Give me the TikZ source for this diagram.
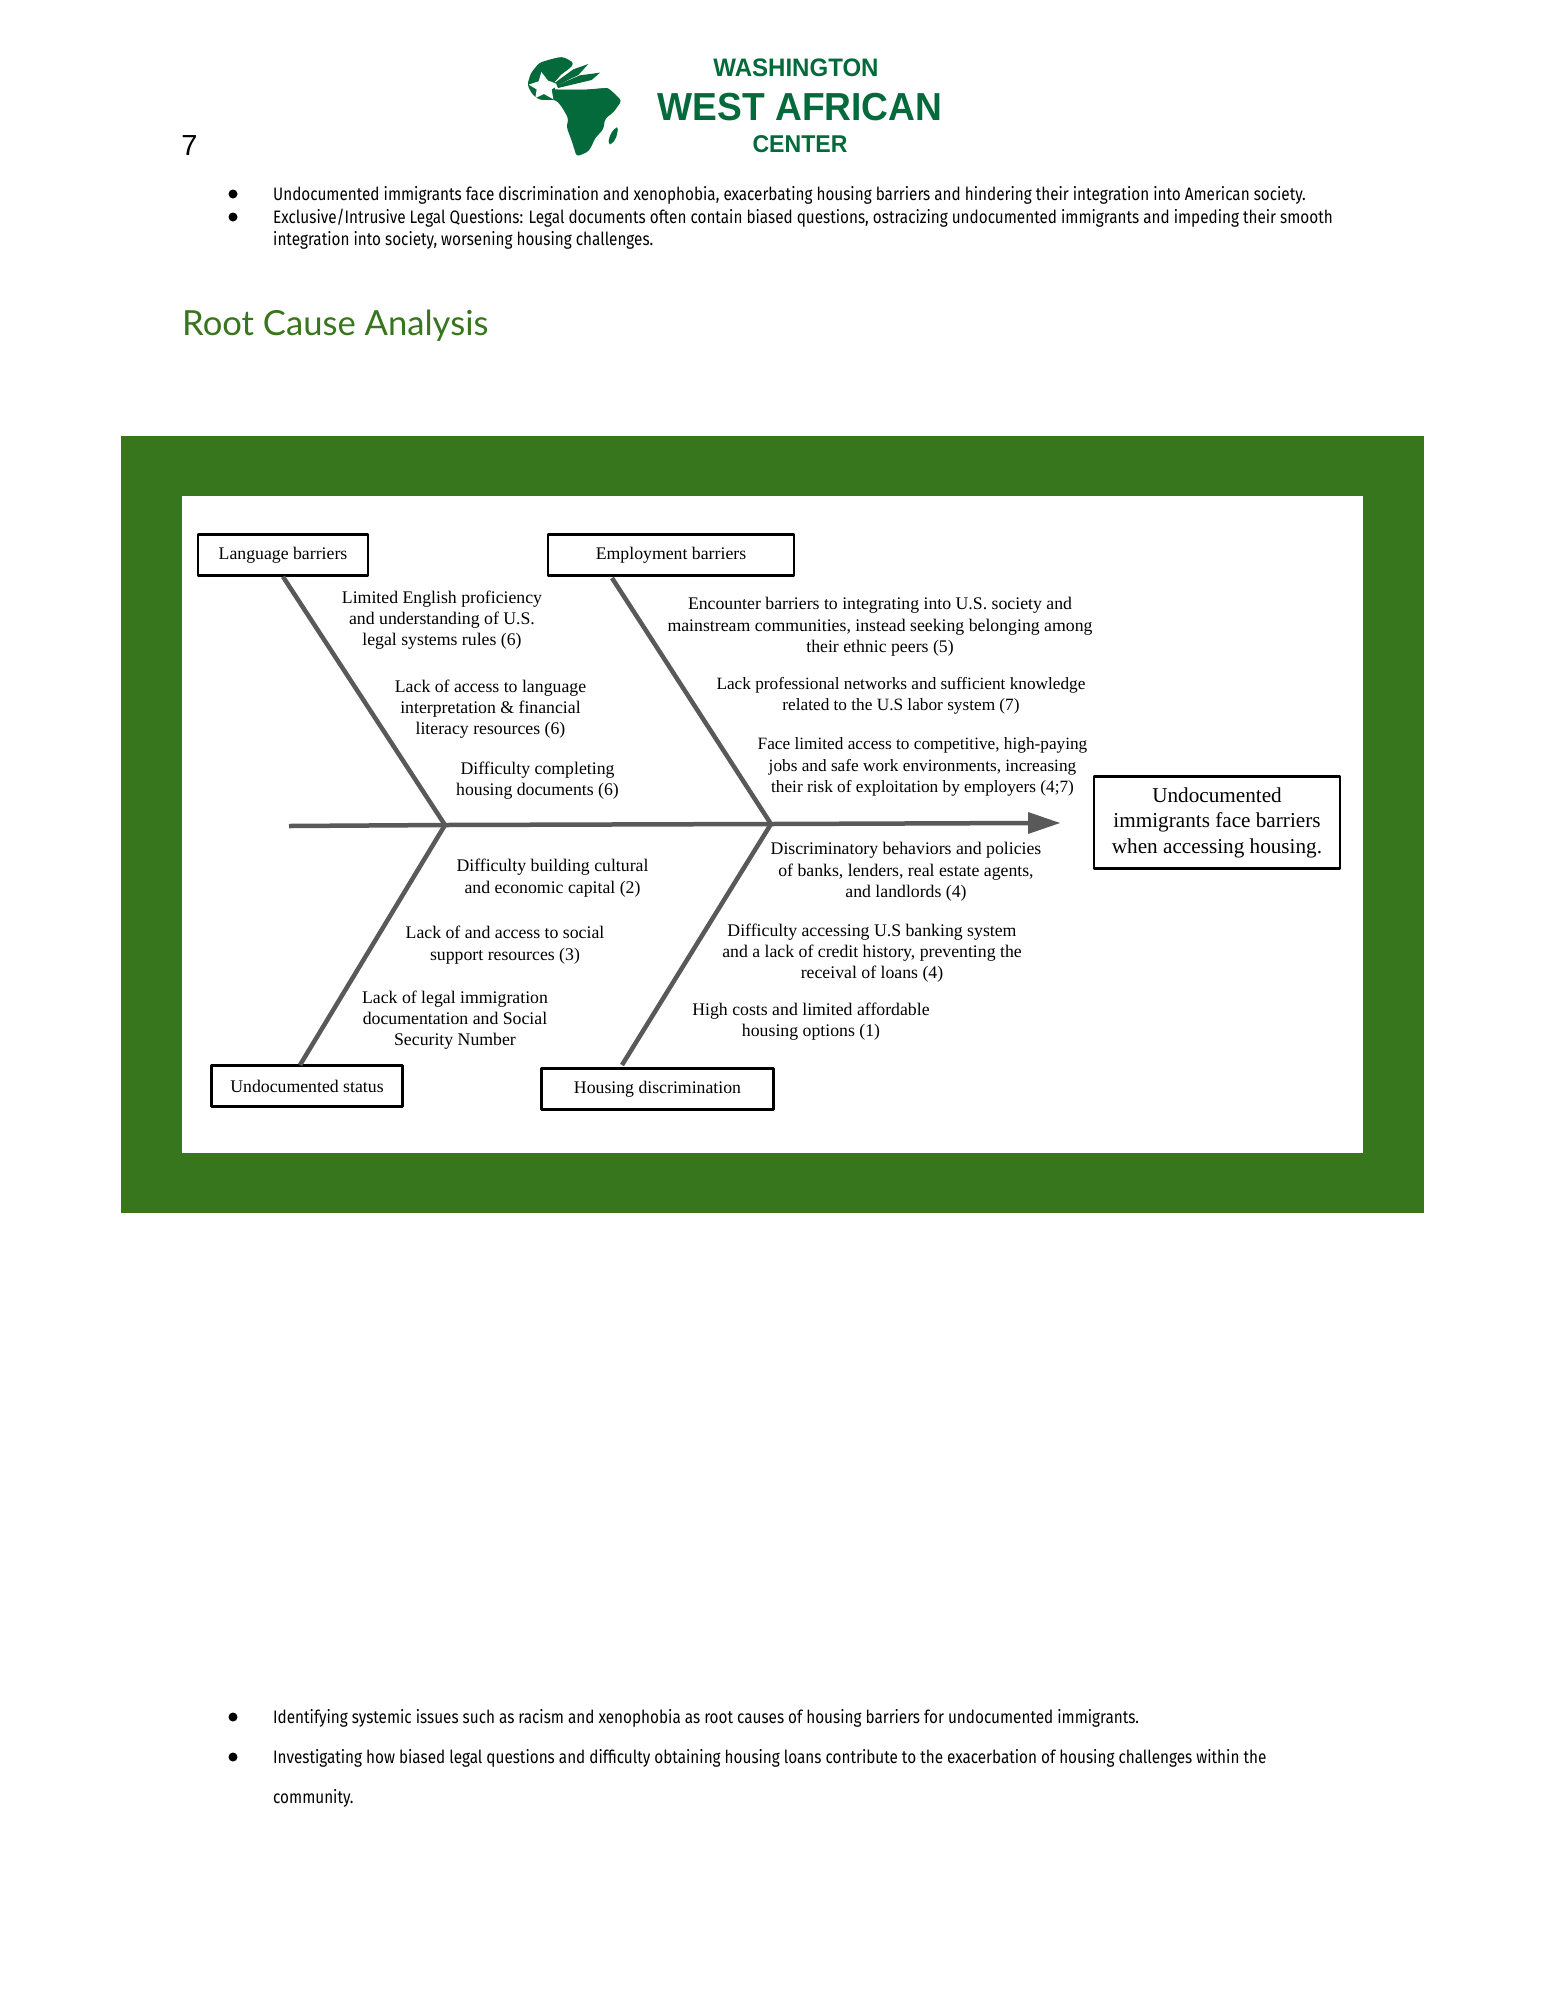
\documentclass[tikz,border=0pt]{standalone}
\usepackage{fontspec}
\setmainfont{Liberation Serif}
\newfontfamily\bodyfont[FakeStretch=0.85]{Fira Sans}
\newfontfamily\headfont{Lato}
\newfontfamily\logofont[FakeStretch=0.95]{Liberation Sans}
\newfontfamily\numfont{Liberation Sans}
\definecolor{framegreen}{HTML}{38761D}
\definecolor{logogreen}{HTML}{056A3B}
\definecolor{bonegray}{HTML}{595959}
\tikzset{
	causebox/.style={draw=black, line width=2.5pt, fill=white, minimum height=41pt, font=\fontsize{17.75}{21.3}\selectfont, inner sep=0pt},
	label/.style={align=center, font=\fontsize{17.75}{21.3}\selectfont, inner sep=0pt},
	narrowlabel/.style={label, font=\fontsize{17.25}{21.3}\selectfont},
	bodyline/.style={anchor=west, font=\bodyfont\fontsize{18}{21}\selectfont, inner sep=0pt},
	bone/.style={draw=bonegray, line width=4.5pt},
	dot/.style={circle, fill=black, minimum size=9pt, inner sep=0pt},
	logotext/.style={text=logogreen, inner sep=0pt}
}
\begin{document}
\begin{tikzpicture}[x=1pt, y=-1pt, >=stealth, line join=round]
	\useasboundingbox (0,0) rectangle (1545,2000);
	% page head
	\node[font=\numfont\fontsize{29}{29}\selectfont, inner sep=0pt] (pagenum) at (189.5,145.5) {7};
	\begin{scope}[shift={(520,50)}, x=0.3333pt, y=-0.3333pt]
		\fill[logogreen, rounded corners=3pt] (22,105)--(32,70)--(58,38)--(95,27)--(125,20)--(145,28)--(162,40)--(150,55)--(125,72)--(105,95)--(105,118)--(200,118)--(262,112)--(285,132)--(305,152)--(282,185)--(255,207)--(250,238)--(225,265)--(215,288)--(205,305)--(170,320)--(155,272)--(140,232)--(145,205)--(125,170)--(108,150)--(60,150)--(38,135)--cycle;
		\fill[white] (64,66)--(84,92)--(118,104)--(95,118)--(100,148)--(72,132)--(46,144)--(50,118)--(26,104)--(56,94)--cycle;
		\fill[white] (105,95)--(150,55)--(230,55)--(260,100)--(265,113)--(200,118)--(105,118)--cycle;
		\fill[logogreen] (105,98)--(160,58)--(205,42)--(175,75)--(112,106)--cycle;
		\fill[logogreen] (110,106)--(180,76)--(240,68)--(215,90)--(114,114)--cycle;
		\fill[logogreen, rounded corners=3pt] (295,230)--(283,236)--(270,255)--(264,282)--(276,283)--(290,260)--cycle;
	\end{scope}
	\node[logotext, font=\logofont\bfseries\fontsize{25.3}{26}\selectfont] (logoa) at (796,68) {WASHINGTON};
	\node[logotext, font=\logofont\bfseries\fontsize{39.1}{39}\selectfont] (logob) at (800,107) {WEST AFRICAN};
	\node[logotext, font=\logofont\bfseries\fontsize{24.3}{25}\selectfont] (logoc) at (800,144) {CENTER};
	% top bullets
	\node[dot] (dota) at (233,194) {};
	\node[dot] (dotb) at (233,217) {};
	\node[bodyline] (topa) at (273,195) {Undocumented immigrants face discrimination and xenophobia, exacerbating housing barriers and hindering their integration into American society.};
	\node[bodyline] (topb) at (273,218) {Exclusive/Intrusive Legal Questions: Legal documents often contain biased questions, ostracizing undocumented immigrants and impeding their smooth};
	\node[bodyline] (topc) at (273,240) {integration into society, worsening housing challenges.};
	\node[anchor=west, text=framegreen, font=\headfont\fontsize{34.6}{35}\selectfont, inner sep=0pt] (heading) at (182,326) {Root Cause Analysis};
	% figure
	\fill[framegreen] (121,436) rectangle (1424,1213);
	\fill[white] (182,496) rectangle (1363,1153);
	\node[causebox, minimum width=170pt] (langbox) at (283,555) {Language barriers};
	\node[causebox, minimum width=246pt] (empbox) at (671,555) {Employment barriers};
	\node[causebox, minimum width=191pt] (undocbox) at (307,1086) {Undocumented status};
	\node[causebox, minimum width=232pt] (housebox) at (657.5,1089) {Housing discrimination};
	\node[causebox, minimum width=246pt, minimum height=92pt, align=center, font=\fontsize{21.2}{25.5}\selectfont] (rootbox) at (1217,822.5) {Undocumented\\immigrants face barriers\\when accessing housing.};
	\coordinate (spinestart) at (289,826);
	\coordinate (jointa) at (445,825);
	\coordinate (jointb) at (771,824);
	\coordinate (spineend) at (1060,823);
	\coordinate (emptop) at (612,578);
	\coordinate (undoctop) at (300,1065);
	\coordinate (housetop) at (622,1065);
	\draw[bone] (spinestart)--(jointa)--(jointb)--(1032,823);
	\fill[bonegray] (spineend)--(1028,812)--(1028,834)--cycle;
	\draw[bone] (langbox.south)--(jointa)--(undoctop);
	\draw[bone] (emptop)--(jointb)--(housetop);
	% causes, upper side
	\node[label] (lima) at (442,620) {Limited English proficiency\\and understanding of U.S.\\legal systems rules (6)};
	\node[label] (limb) at (490.5,709) {Lack of access to language\\interpretation \& financial\\literacy resources (6)};
	\node[label] (limc) at (537.5,781) {Difficulty completing\\housing documents (6)};
	\node[label] (empa) at (880,627) {Encounter barriers to integrating into U.S. society and\\mainstream communities, instead seeking belonging among\\their ethnic peers (5)};
	\node[narrowlabel] (empb) at (901,696) {Lack professional networks and sufficient knowledge\\related to the U.S labor system (7)};
	\node[narrowlabel] (empc) at (922.5,767) {Face limited access to competitive, high-paying\\jobs and safe work environments, increasing\\their risk of exploitation by employers (4;7)};
	% causes, lower side
	\node[label] (undoca) at (552.5,878) {Difficulty building cultural\\and economic capital (2)};
	\node[label] (undocb) at (505,945) {Lack of and access to social\\support resources (3)};
	\node[label] (undocc) at (455,1020) {Lack of legal immigration\\documentation and Social\\Security Number};
	\node[label] (housea) at (906,872) {Discriminatory behaviors and policies\\of banks, lenders, real estate agents,\\and landlords (4)};
	\node[label] (houseb) at (872,953) {Difficulty accessing U.S banking system\\and a lack of credit history, preventing the\\receival of loans (4)};
	\node[label] (housec) at (811,1022) {High costs and limited affordable\\housing options (1)};
	% bottom bullets
	\node[dot] (dotc) at (233,1717) {};
	\node[dot] (dotd) at (233,1757) {};
	\node[bodyline] (bota) at (273,1718) {Identifying systemic issues such as racism and xenophobia as root causes of housing barriers for undocumented immigrants.};
	\node[bodyline] (botb) at (273,1758) {Investigating how biased legal questions and difficulty obtaining housing loans contribute to the exacerbation of housing challenges within the};
	\node[bodyline] (botc) at (273,1798) {community.};
\end{tikzpicture}
\end{document}
